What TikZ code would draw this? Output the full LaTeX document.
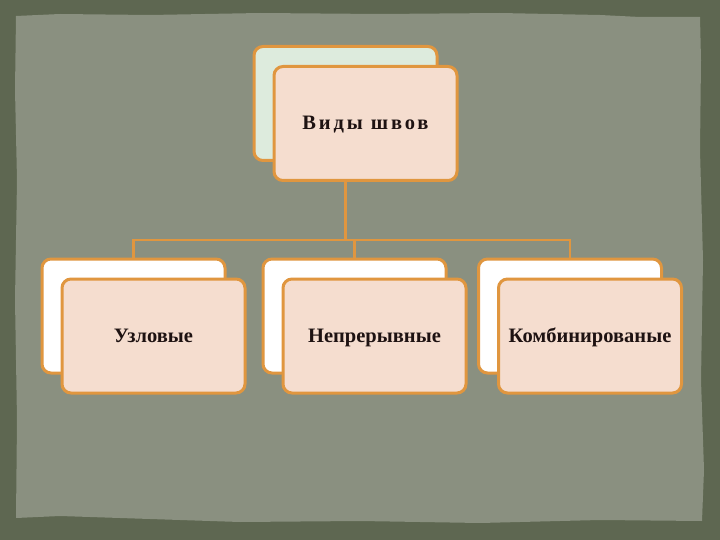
\documentclass[tikz,border=0pt]{standalone}
\usepackage{fontspec}
\setmainfont{Liberation Serif}
\newfontfamily\widefont[LetterSpace=14]{Liberation Serif}
\usepackage{tikz}

\definecolor{slate}{HTML}{5E6751}
\definecolor{paper}{HTML}{8A9080}
\definecolor{rim}{HTML}{E0963F}
\definecolor{peach}{HTML}{F5DDCF}
\definecolor{mint}{HTML}{DDEBDD}
\definecolor{ink}{HTML}{1E1212}

\tikzset{
  card/.style={draw=rim, line width=3pt, rounded corners=9pt,
    minimum width=183pt, minimum height=114pt, inner sep=0pt},
  backcard/.style={card, fill=#1},
  frontcard/.style={card, fill=peach, text=ink, text height=16pt, text depth=4pt,
    font=\fontsize{20.5}{24}\selectfont\bfseries},
  link/.style={draw=rim, line width=2.5pt}
}

\begin{document}
\begin{tikzpicture}[x=1pt, y=-1pt]
      \useasboundingbox (0,0) rectangle (720,540);

      % backdrop
      \fill[slate] (0,0) rectangle (720,540);
      \fill[paper] (16,16) -- (60,14) -- (150,15) -- (260,13) -- (380,14)
        -- (500,13) -- (600,15) -- (640,17) -- (700,17) -- (701,60)
        -- (700,150) -- (703,260) -- (701,380) -- (704,470) -- (702,521)
        -- (600,520) -- (480,523) -- (360,521) -- (240,522) -- (120,518)
        -- (60,516) -- (16,518) -- (17,420) -- (15,300) -- (17,180)
        -- (15,90) -- cycle;

      % back cards
      \node[backcard=mint] (topback) at (345.5,103.5) {};
      \foreach \x [count=\i] in {133.5, 354.5, 570} {
        \node[backcard=white] (back\i) at (\x,316) {};
      }

      % connectors
      \coordinate (hub) at (345.5,240);
      \draw[link] (topback.south) -- (hub);
      \foreach \i in {1,2,3} {
        \draw[link] (hub) -| (back\i.north);
      }

      % front cards
      \node[frontcard] (top) at (365.5,123.5) {\widefont Виды швов};
      \foreach \x/\t [count=\i] in {153.5/Узловые, 374.5/Непрерывные, 590/Комбинированые} {
        \node[frontcard] (front\i) at (\x,336) {\t};
      }

\end{tikzpicture}
\end{document}
